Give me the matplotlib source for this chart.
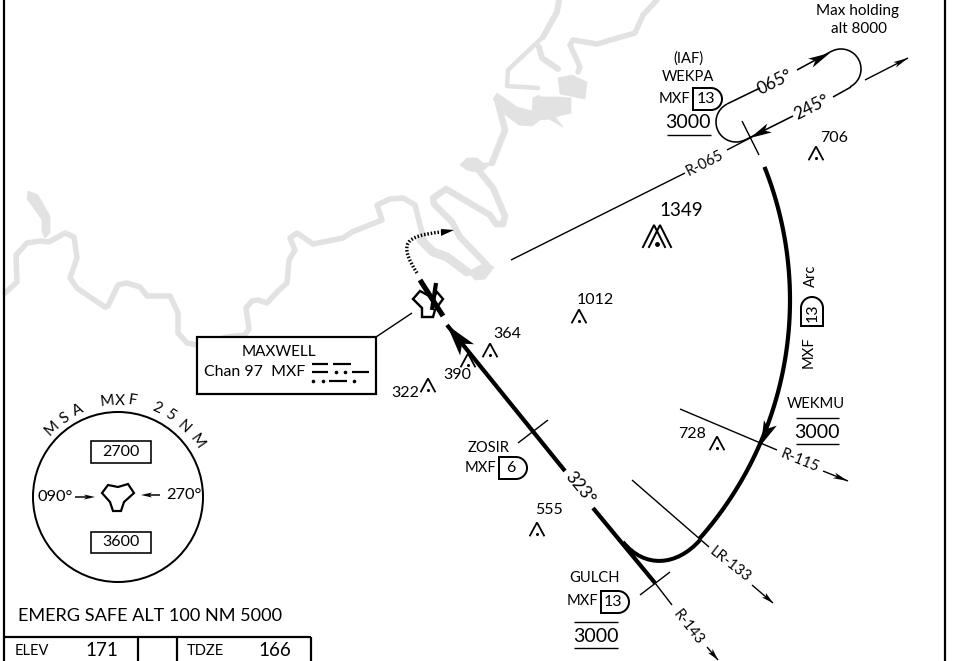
import numpy as np
import matplotlib
matplotlib.use('Agg')
import matplotlib.pyplot as plt
from matplotlib.path import Path
from matplotlib.patches import PathPatch, Polygon, Rectangle, Circle

plt.rcParams['font.family'] = ['Lato', 'DejaVu Sans']

river_lines = [
    [(5, 293), (17, 282), (16, 255), (27, 243), (40, 241), (49, 242), (65, 233), (74, 237), (77, 258), (70, 278),
     (77, 288), (90, 297), (105, 307), (108, 306), (118, 285), (127, 283), (140, 287), (147, 296), (170, 296),
     (178, 313), (178, 333), (187, 343), (198, 345), (227, 337), (245, 335), (249, 329), (246, 308), (252, 301),
     (258, 300), (267, 303), (277, 292), (287, 283), (289, 260), (295, 250), (290, 238), (297, 233), (313, 244),
     (343, 238), (352, 232), (382, 220), (377, 205), (390, 199), (403, 198), (415, 205), (420, 225), (425, 243)],
    [(421, 240), (433, 252), (447, 257), (467, 272)],
    [(480, 172), (493, 188), (505, 216), (503, 224), (496, 224), (490, 215), (446, 189), (433, 198), (434, 204),
     (452, 222), (460, 237), (487, 265)],
    [(492, 163), (505, 130), (498, 103)],
    [(539, 47), (542, 58), (558, 69)],
    [(543, 37), (508, 70), (507, 86), (538, 88)],
    [(543, 37), (557, 12), (559, 0)],
    [(578, 72), (580, 67), (570, 45), (573, 40), (597, 44), (635, 33), (643, 15), (657, 0)],
]
river_widths = [5.5, 9, 6.5, 6.5, 6, 4.5, 6, 5.5]
river_polys = [
    [(28, 191), (38, 195), (50, 216), (50, 233), (45, 238), (42, 232), (42, 220), (33, 207), (27, 199)],
    [(468, 272), (475, 280), (485, 279), (494, 267), (485, 263), (477, 267)],
    [(460, 165), (467, 158), (477, 158), (483, 163), (492, 163), (480, 173), (467, 170)],
    [(493, 99), (497, 93), (517, 107), (532, 111), (533, 98), (539, 95), (549, 109), (563, 127), (549, 119),
     (540, 120), (532, 126), (519, 125), (508, 117), (502, 112)],
    [(540, 97), (560, 97), (571, 98), (571, 113), (555, 117), (546, 106)],
    [(558, 78), (572, 75), (587, 82), (585, 99), (560, 94)],
]

track_in = [(447, 325), (565, 471)]
track_out = [(593, 508), (655, 583)]
r143_line = [(655, 583), (672, 605)]
r143_arrow = [(707, 647), (718, 660)]
zosir_tick = [(518, 443), (548, 420)]
gulch_tick = [(640, 595), (670, 572)]
wekpa_tick = [(742, 121), (759, 155)]
r133_line = [(632, 480), (709, 547)]
r133_arrow = [(752, 585), (773, 603)]
r115_line = [(680, 409), (777, 450)]
r115_arrow = [(823, 471), (848, 481)]
r065_line = [(511, 260), (685, 173)]
r065_stub = [(727, 150), (752, 137)]
r065_arrow = [(865, 80), (908, 58)]

hold_top = [(727, 104), (760, 88)]
hold_top2 = [(797, 70), (832, 51)]
hold_bot = [(851, 87), (833, 97)]
hold_bot2 = [(793, 116), (745, 140)]
hold_left = (736, 122)
hold_right = (841, 69)
hold_radius = 20

arc_center = (430, 300)
arc_radius = 360
arc_angles = (-21.7, 41.6)
lead_turn = [(700, 540), (677, 566), (645, 569), (623, 542)]

missed_path = [(417, 273), (398, 243), (405, 236), (441, 232)]
missed_head = [(441, 229), (454, 230), (441, 236)]

tacan_shape = [(413, 299), (420, 291), (433, 298), (437, 292), (443, 299), (435, 310), (433, 317), (422, 317), (422, 308)]
tacan_bar1 = [(420, 280), (443, 316)]
tacan_bar2 = [(436, 283), (432, 310)]
box_leader = [(376, 337), (412, 313)]
morse_dashes = [(312, 328, 364), (333, 351, 364), (312, 328, 372), (352, 369, 372), (329, 347, 381)]
morse_dots = [(336, 372), (345, 372), (313, 381), (323, 381), (354, 381)]

msa_center = (118, 497)
msa_radius = 85
msa_symbol = [(102, 493), (108, 485), (118, 487), (128, 484), (134, 493), (124, 502), (121, 511), (113, 511), (110, 502)]
msa_letters = ['M', 'S', 'A', 'M', 'X', 'F', '2', '5', 'N', 'M']
msa_letter_xy = [(52, 428), (65, 418), (78, 410), (107, 401), (120, 401), (133, 401), (157, 408), (170, 415), (184, 427), (197, 442)]
msa_boxes = [(91, 441, 60, 22, '2700'), (91, 532, 60, 21, '3600')]

obstacle_xy = [(816, 153), (579, 316), (490, 350), (468, 360), (428, 385), (537, 529), (717, 443)]
obstacle_text = ['706', '1012', '364', '390', '322', '555', '728']
obstacle_text_xy = [(834, 138), (595, 300), (507, 334), (457, 375), (405, 393), (549, 510), (692, 434)]
big_obstacle = (657, 236)

dme_boxes = [(693, 88, 29, 22, '13'), (499, 457, 28, 22, '6'), (601, 591, 28, 22, '13')]
fix_text = [('(IAF)', 688, 59), ('WEKPA', 688, 77), ('MXF', 674, 99), ('ZOSIR', 489, 448), ('MXF', 480, 468),
            ('GULCH', 594, 578), ('MXF', 582, 601), ('WEKMU', 816, 404)]
alt_text = [('3000', 688, 123), ('3000', 596, 636), ('3000', 817, 432)]
alt_rules = [(667, 711, 135), (574, 618, 622), (574, 618, 648), (796, 839, 418), (796, 839, 444)]
rotated_text = [('065°', 775, 82, 27), ('245°', 812, 107, 27), ('323°', 580, 488, -50)]
radial_text = [('R-065', 705, 163, 27), ('R-143', 688, 627, -52), ('LR-133', 730, 565, -38), ('R-115', 800, 461, -22)]

fig = plt.figure(figsize=(9.57, 6.61), dpi=100)
ax = fig.add_axes([0, 0, 1, 1])
ax.set_xlim(0, 957)
ax.set_ylim(661, 0)
ax.axis('off')

grey = '#e2e2e2'
px = 0.72  # one picture pixel in points


def line(pts, w=1.4, color='black', **kw):
    xs, ys = zip(*pts)
    ax.plot(xs, ys, color=color, lw=w * px, solid_capstyle=kw.pop('cap', 'butt'), **kw)


def head(tip, tail, length=16, width=4.5):
    # small barbed arrow head, pointing from tail to tip
    tip = np.array(tip, float)
    d = tip - np.array(tail, float)
    d = d / np.hypot(*d)
    n = np.array([-d[1], d[0]])
    base = tip - d * length
    ax.add_patch(Polygon([tip, base + n * width, tip - d * length * 0.75, base - n * width], closed=True, fc='black', ec='none', zorder=4))


def dbox(x, y, w, h, vertical=False):
    # DME box, rounded on the far side
    r = h / 2
    k = 0.55 * r
    if not vertical:
        verts = [(x, y), (x + w - r, y), (x + w - r + k, y), (x + w, y + r - k), (x + w, y + r),
                 (x + w, y + r + k), (x + w - r + k, y + h), (x + w - r, y + h), (x, y + h), (x, y)]
    else:
        r = w / 2
        k = 0.55 * r
        verts = [(x, y + h), (x, y + r), (x, y + r - k), (x + r - k, y), (x + r, y),
                 (x + r + k, y), (x + w, y + r - k), (x + w, y + r), (x + w, y + h), (x, y + h)]
    codes = [Path.MOVETO, Path.LINETO, Path.CURVE4, Path.CURVE4, Path.CURVE4,
             Path.CURVE4, Path.CURVE4, Path.CURVE4, Path.LINETO, Path.CLOSEPOLY]
    ax.add_patch(PathPatch(Path(verts, codes), fc='white', ec='black', lw=2 * px, zorder=3))


def caret(x, y):
    ax.plot([x - 7, x, x + 7], [y + 6.5, y - 6.5, y + 6.5], color='black', lw=1.8 * px, solid_joinstyle='miter', zorder=3)
    ax.plot([x], [y + 5], 'o', color='black', ms=1.2, zorder=3)


def label(s, x, y, size=10, rot=0, **kw):
    ax.text(x, y, s, fontsize=size, rotation=rot, ha=kw.pop('ha', 'center'), va=kw.pop('va', 'center'),
            rotation_mode='anchor', zorder=5, **kw)


def arc_pts(center, r, a0, a1):
    t = np.radians(np.linspace(a0, a1, 60))
    return list(zip(center[0] + r * np.cos(t), center[1] + r * np.sin(t)))


# river
for pts, w in zip(river_lines, river_widths):
    line(pts, w=w, color=grey, zorder=1, solid_joinstyle='round', cap='round')
for pts in river_polys:
    ax.add_patch(Polygon(pts, closed=True, fc=grey, ec=grey, lw=0.5, zorder=1))

# frame and bottom table
line([(4, 0), (4, 661)], w=2.2)
line([(945, 0), (945, 661)], w=2.2)
line([(4, 637), (311, 637)], w=2.2)
for x in [138, 177, 311]:
    line([(x, 637), (x, 661)], w=2.2)
label('EMERG SAFE ALT 100 NM 5000', 18, 616, size=13.1, ha='left')
label('ELEV', 15, 651, size=10.5, ha='left')
label('171', 102, 650, size=13.5)
label('TDZE', 187, 651, size=10.5, ha='left')
label('166', 275, 650, size=13.5)

# MSA circle
ax.add_patch(Circle(msa_center, msa_radius, fc='none', ec='black', lw=2 * px, zorder=2))
for ch, (x, y) in zip(msa_letters, msa_letter_xy):
    rot = -np.degrees(np.arctan2(x - msa_center[0], msa_center[1] - y))
    label(ch, x, y, size=11, rot=rot)
for x, y, w, h, s in msa_boxes:
    ax.add_patch(Rectangle((x, y), w, h, fc='white', ec='black', lw=1.6 * px))
    label(s, x + w / 2, y + h / 2, size=11.5)
ax.add_patch(Polygon(msa_symbol, closed=True, fc='white', ec='black', lw=2.2 * px, zorder=3))
label('090°', 55, 497, size=11.8)
label('270°', 184, 495, size=11.8)
line([(75, 497), (90, 497)], w=1.5)
head((95, 497), (75, 497), length=11, width=2.5)
line([(160, 495), (145, 495)], w=1.5)
head((141, 495), (160, 495), length=11, width=2.5)

# approach track
line(track_in, w=4.2)
line(track_out, w=4.2)
line(r143_line, w=1.4)
line(r143_arrow, w=1.4)
head(r143_arrow[1], r143_arrow[0], length=12, width=3)
head(track_in[0], track_in[1], length=32, width=9)
for seg in [zosir_tick, gulch_tick, wekpa_tick, r133_line, r115_line, r065_line, r065_stub, r065_arrow, r133_arrow,
            r115_arrow, box_leader]:
    line(seg, w=1.4)
head(r065_arrow[1], r065_arrow[0], length=15, width=3)
head(r133_arrow[1], r133_arrow[0], length=12, width=3)
head(r115_arrow[1], r115_arrow[0], length=15, width=3)

# holding pattern
for seg in [hold_top, hold_top2, hold_bot, hold_bot2]:
    line(seg, w=1.6)
line(arc_pts(hold_left, hold_radius, 63, 243), w=1.6)
line(arc_pts(hold_right, hold_radius, -117, 63), w=1.6)
head((830, 53), (797, 70), length=22, width=5)
head((750, 138), (793, 116), length=22, width=5)

# DME arc and lead turn
line(arc_pts(arc_center, arc_radius, arc_angles[0], arc_angles[1]), w=4.2)
codes = [Path.MOVETO, Path.CURVE4, Path.CURVE4, Path.CURVE4]
ax.add_patch(PathPatch(Path(lead_turn, codes), fc='none', ec='black', lw=4 * px, zorder=2))
head((761, 445), (778, 405), length=24, width=7)

# missed approach and station
ax.add_patch(PathPatch(Path(missed_path, codes), fc='none', ec='black', lw=3.4 * px, ls=(0, (0.45, 0.55)), capstyle='butt'))
ax.add_patch(Polygon(missed_head, closed=True, fc='black', ec='none'))
ax.add_patch(Polygon(tacan_shape, closed=True, fc='white', ec='black', lw=2.4 * px, zorder=3))
ax.plot(*zip(*tacan_bar1), color='black', lw=5.2 * px, solid_capstyle='butt', zorder=4)
ax.plot(*zip(*tacan_bar2), color='black', lw=4.2 * px, solid_capstyle='butt', zorder=4)

# MAXWELL box
ax.add_patch(Rectangle((197, 337), 179, 57, fc='white', ec='black', lw=2.2 * px, zorder=3))
label('MAXWELL', 279, 352, size=11)
label('Chan 97  MXF', 204, 372, size=11.4, ha='left')
for x0, x1, y in morse_dashes:
    ax.plot([x0, x1], [y, y], color='black', lw=2.2 * px, solid_capstyle='butt', zorder=5)
mdx, mdy = zip(*morse_dots)
ax.plot(mdx, mdy, 'o', color='black', ms=2.6, mew=0, zorder=5)

# obstacles
for (x, y), s, (tx, ty) in zip(obstacle_xy, obstacle_text, obstacle_text_xy):
    caret(x, y)
    label(s, tx, ty, size=11.5)
bx, by = big_obstacle
for off in [-3, 3]:
    ax.plot([bx - 11 + off, bx + off, bx + 11 + off], [by + 11, by - 11, by + 11], color='black', lw=2 * px,
            solid_joinstyle='miter', zorder=3)
ax.plot([bx], [by + 8], 'o', color='black', ms=2.5, zorder=3)
label('1349', 681, 210, size=13.5)

# fixes
for x, y, w, h, s in dme_boxes:
    dbox(x, y, w, h)
    label(s, x + w / 2 - 2, y + h / 2, size=11.5)
for s, x, y in fix_text:
    label(s, x, y, size=10.6)
for s, x, y in alt_text:
    label(s, x, y, size=14)
for x0, x1, y in alt_rules:
    line([(x0, y), (x1, y)], w=1.4)
for s, x, y, rot in rotated_text:
    label(s, x, y, size=12.5, rot=rot)
for s, x, y, rot in radial_text:
    label(s, x, y, size=10.6, rot=rot)

label('Max holding', 857, 11, size=11)
label('alt 8000', 859, 29, size=11)
dbox(801, 297, 22, 29, vertical=True)
label('13', 813, 313, size=11.5, rot=90)
label('MXF', 809, 352, size=10.6, rot=90)
label('Arc', 811, 276, size=10.6, rot=90)

plt.savefig('out.png', dpi=100, facecolor='white')
